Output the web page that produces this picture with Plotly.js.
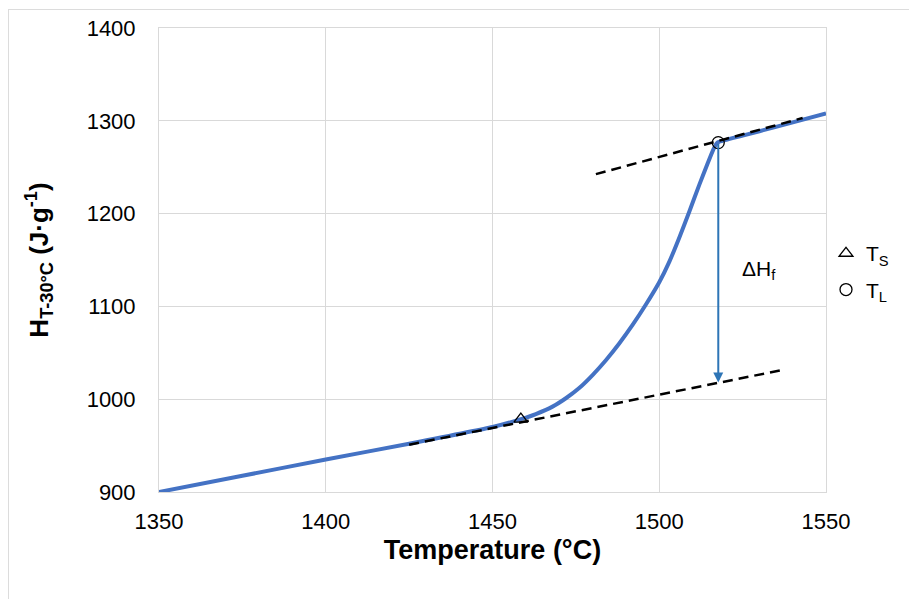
<!DOCTYPE html>
<html>
<head>
<meta charset="utf-8">
<script src="https://cdn.plot.ly/plotly-3.0.1.min.js"></script>
<style>
  html, body { margin: 0; padding: 0; background: #ffffff; overflow: hidden; }
  #chart { width: 909px; height: 599px; }
  #frame { position: absolute; left: 8px; top: 9px; width: 1200px; height: 1200px;
           border-left: 1px solid #dcdcdc; border-top: 1px solid #dcdcdc; pointer-events: none; }
</style>
</head>
<body>
<div id="chart"></div>
<div id="frame"></div>
<script>
// Main enthalpy curve H(T-30°C) vs temperature
const temperature = [1350, 1375, 1400, 1425, 1450, 1458.5, 1463, 1468, 1472, 1476, 1480, 1484, 1488, 1492, 1496, 1500, 1503, 1506, 1509, 1512, 1514.5, 1516.2, 1517.2, 1517.7, 1525, 1535, 1550];
const enthalpy    = [900, 917.5, 935, 952, 970, 978.5, 984, 992, 1001, 1012, 1026, 1042, 1060, 1080, 1102, 1126, 1148, 1174, 1202, 1231, 1254, 1269, 1275.5, 1277, 1284, 1293.5, 1308];

// Tangent (dashed) lines
const solidTanT = [1425, 1537];
const solidTanH = [951, 1031.5];
const liquidTanT = [1481, 1543];
const liquidTanH = [1242.5, 1303];

// Solidus / liquidus markers
const tsT = [1458.5], tsH = [978.5];
const tlT = [1517.7], tlH = [1276.5];

// Enthalpy of fusion arrow
const arrowT = 1517.7, arrowFromH = 1276.5, arrowToH = 1018;
const dHLabelT = 1530, dHLabelH = 1139;

// Axis ticks
const xTicks = [1350, 1400, 1450, 1500, 1550];
const yTicks = [900, 1000, 1100, 1200, 1300, 1400];

const font = "Liberation Sans, Arial, sans-serif";

const traces = [
  { x: temperature, y: enthalpy, mode: 'lines', type: 'scatter',
    line: { color: '#4472c4', width: 4, shape: 'spline', smoothing: 0.4 }, showlegend: false, hoverinfo: 'skip' },
  { x: solidTanT, y: solidTanH, mode: 'lines', type: 'scatter',
    line: { color: '#000000', width: 2.5, dash: '10px,6px' }, showlegend: false, hoverinfo: 'skip' },
  { x: liquidTanT, y: liquidTanH, mode: 'lines', type: 'scatter',
    line: { color: '#000000', width: 2.5, dash: '10px,6px' }, showlegend: false, hoverinfo: 'skip' },
  { x: tsT, y: tsH, mode: 'markers', type: 'scatter', name: 'T<sub>S</sub>', legendgroup: 'a',
    marker: { symbol: 'triangle-up-open', size: 12, color: '#000000', line: { width: 1.3, color: '#000000' } } },
  { x: tlT, y: tlH, mode: 'markers', type: 'scatter', name: 'T<sub>L</sub>', legendgroup: 'b',
    marker: { symbol: 'circle-open', size: 12, color: '#000000', line: { width: 1.3, color: '#000000' } } }
];

const layout = {
  width: 909, height: 599,
  margin: { l: 159, r: 83, t: 28, b: 107 },
  paper_bgcolor: '#ffffff', plot_bgcolor: '#ffffff',
  font: { family: font, color: '#000000' },
  showlegend: true,
  legend: { x: 1.0, y: 0.558, xanchor: 'left', yanchor: 'top', font: { size: 21, family: font },
            tracegroupgap: 6, bgcolor: 'rgba(0,0,0,0)' },
  xaxis: {
    range: [1350, 1550], tickvals: xTicks, ticktext: xTicks.map(String),
    showgrid: true, gridcolor: '#d9d9d9', gridwidth: 1,
    showline: true, linecolor: '#d9d9d9', linewidth: 1, mirror: true,
    zeroline: false, ticks: '', ticklabelstandoff: 10,
    tickfont: { size: 22, family: font, color: '#000000' },
    title: { text: '<b>Temperature (°C)</b>', font: { size: 27, family: font, color: '#000000' }, standoff: 6 }
  },
  yaxis: {
    range: [900, 1400], tickvals: yTicks, ticktext: yTicks.map(String),
    showgrid: true, gridcolor: '#d9d9d9', gridwidth: 1,
    showline: true, linecolor: '#d9d9d9', linewidth: 1, mirror: true,
    zeroline: false, ticks: '', ticklabelstandoff: 18,
    tickfont: { size: 22, family: font, color: '#000000' },
    title: { text: '<b>H<sub>T-30°C</sub> (J·g<sup>-1</sup>)</b>', font: { size: 26, family: font, color: '#000000' }, standoff: 30 }
  },
  annotations: [
    { x: arrowT, y: arrowToH, ax: arrowT, ay: arrowFromH, xref: 'x', yref: 'y', axref: 'x', ayref: 'y',
      text: '', showarrow: true, arrowhead: 2, arrowsize: 1, arrowwidth: 2, arrowcolor: '#2e75b6' },
    { x: dHLabelT, y: dHLabelH, xref: 'x', yref: 'y', text: 'ΔH<sub>f</sub>', showarrow: false,
      font: { size: 21, family: font, color: '#000000' } }
  ]
};

Plotly.newPlot('chart', traces, layout, { displayModeBar: false, staticPlot: true });
</script>
</body>
</html>
